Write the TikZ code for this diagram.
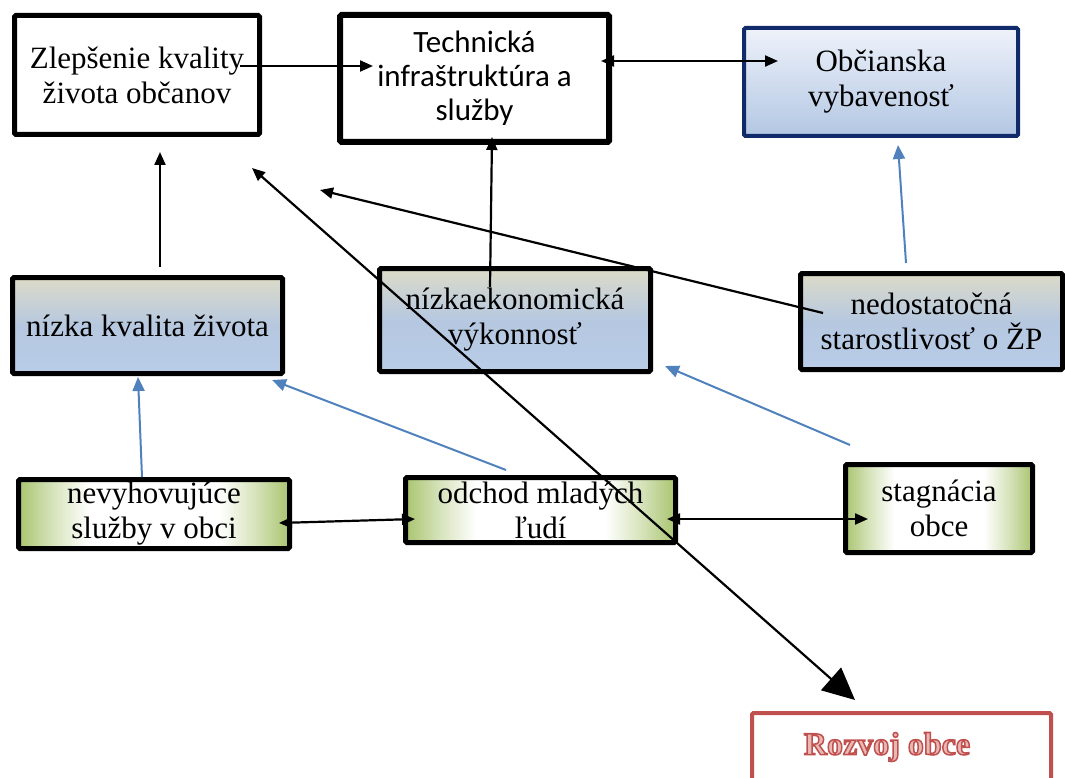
\documentclass[tikz,border=0pt]{standalone}
\usepackage{fontspec}
\setmainfont{Liberation Serif}
\newfontfamily\calfont{Carlito}
\usetikzlibrary{arrows.meta,calc}
\definecolor{blu}{HTML}{4F81BD}
\definecolor{navy}{HTML}{102A6A}
\definecolor{redb}{HTML}{C0504D}
\definecolor{beigetop}{HTML}{DCDBC8}
\definecolor{bluemid}{HTML}{B6C8E0}
\definecolor{bluebot}{HTML}{B8CCE8}
\definecolor{paletop}{HTML}{EEF2FA}
\definecolor{palebot}{HTML}{B3C7E3}
\definecolor{grn}{HTML}{A9C46F}
\pgfdeclarehorizontalshading{greenh}{100bp}{color(0bp)=(grn); color(25bp)=(grn);
  color(31bp)=(grn!50!white); color(38bp)=(white); color(62bp)=(white);
  color(69bp)=(grn!50!white); color(75bp)=(grn); color(100bp)=(grn)}
\begin{document}
\begin{tikzpicture}[x=1pt,y=-1pt,
  box/.style={draw=black, line width=5pt, rounded corners=1.5pt, align=center, inner sep=0pt,
    font=\fontsize{31}{35}\selectfont},
  bluebox/.style={box, top color=beigetop, bottom color=bluebot, middle color=bluemid},
  greenbox/.style={box, shading=greenh},
  blk/.style={line width=2.2pt, black},
  bh/.style={-{Triangle[length=13pt,width=11pt]}},
  bb/.style={{Triangle[length=13pt,width=11pt]}-{Triangle[length=13pt,width=11pt]}},
  bl/.style={line width=2pt, blu, -{Triangle[length=14pt,width=12pt]}}
]
\useasboundingbox (0,0) rectangle (1065,778);

% nodes
\node[box, minimum width=245pt, minimum height=119pt] (zl) at (137,75)
  {Zlepšenie kvality\\života občanov};
\node[box, line width=6pt, minimum width=269pt, minimum height=127pt,
  font=\calfont\fontsize{31}{34}\selectfont] (tech) at (474.5,78.5)
  {Technická\\infraštruktúra a\\služby};
\node[box, draw=navy, line width=4pt, top color=paletop, bottom color=palebot,
  minimum width=274pt, minimum height=108pt] (obc) at (881,82)
  {Občianska\\vybavenosť};
\node[bluebox, minimum width=270pt, minimum height=96pt] (nk) at (147.5,325.5)
  {nízka kvalita života};
\node[bluebox, minimum width=271pt, minimum height=103pt] (ne) at (515,320)
  {nízkaekonomická\\výkonnosť};
\node[bluebox, minimum width=262pt, minimum height=96pt] (nd) at (931.5,321.5)
  {nedostatočná\\starostlivosť o ŽP};
\node[greenbox, minimum width=271pt, minimum height=69pt] (nv) at (154,514)
  {nevyhovujúce\\služby v obci};
\node[greenbox, minimum width=270pt, minimum height=65pt] (od) at (540.5,510)
  {odchod mladých\\ľudí};
\node[greenbox, minimum width=187pt, minimum height=88pt] (st) at (939,508.5)
  {stagnácia\\obce};
\node[draw=redb, line width=4pt, rounded corners=1.5pt, minimum width=299pt,
  minimum height=106pt, inner sep=0pt] (rz) at (901.5,766) {};
\node[font=\fontsize{32}{36}\selectfont\bfseries, text=redb, inner sep=0pt] (rzt) at (887,747)
  {\special{pdf:code q 2 Tr 1.5 w 0.753 0.314 0.302 RG 0.91 0.72 0.71 rg}Rozvoj obce\special{pdf:code Q}};

% free ends
\coordinate (p1) at ($(zl)+(183,115)$);
\coordinate (p2) at ($(zl)+(115,93)$);

% black connectors
\draw[blk, bh] ($(zl)+(103,-9)$) -- ($(tech)+(-101.5,-12.5)$);
\draw[blk, bb] ($(tech)+(126.5,-17.5)$) -- ($(obc)+(-103,-21)$);
\draw[blk, bh] ($(nk)+(12.5,-58.5)$) -- ($(zl)+(23,77)$);
\draw[blk, bh] ($(ne)+(-25,-33)$) -- ($(tech)+(17.5,58.5)$);
\draw[blk, bh] ($(nd)+(-108.5,-8.5)$) -- (p1);
\draw[blk, {Triangle[length=13pt,width=11pt]}-{Triangle[length=32pt,width=30pt]}]
  (p2) -- ($(rz)+(-46.5,-66)$);
\draw[blk, bb] ($(nv)+(125,9)$) -- ($(od)+(-125.5,9)$);
\draw[blk, bb] ($(od)+(126.5,9)$) -- ($(st)+(-71,10.5)$);

% blue connectors
\draw[bl] ($(nd)+(-25.5,-58.5)$) -- ($(obc)+(17,63)$);
\draw[bl] ($(nv)+(-12,-37)$) -- ($(nk)+(-9.5,51.5)$);
\draw[bl] ($(od)+(-34.5,-40)$) -- ($(nk)+(124.5,54.5)$);
\draw[bl] ($(st)+(-89,-63.5)$) -- ($(ne)+(150,46)$);
\end{tikzpicture}
\end{document}
